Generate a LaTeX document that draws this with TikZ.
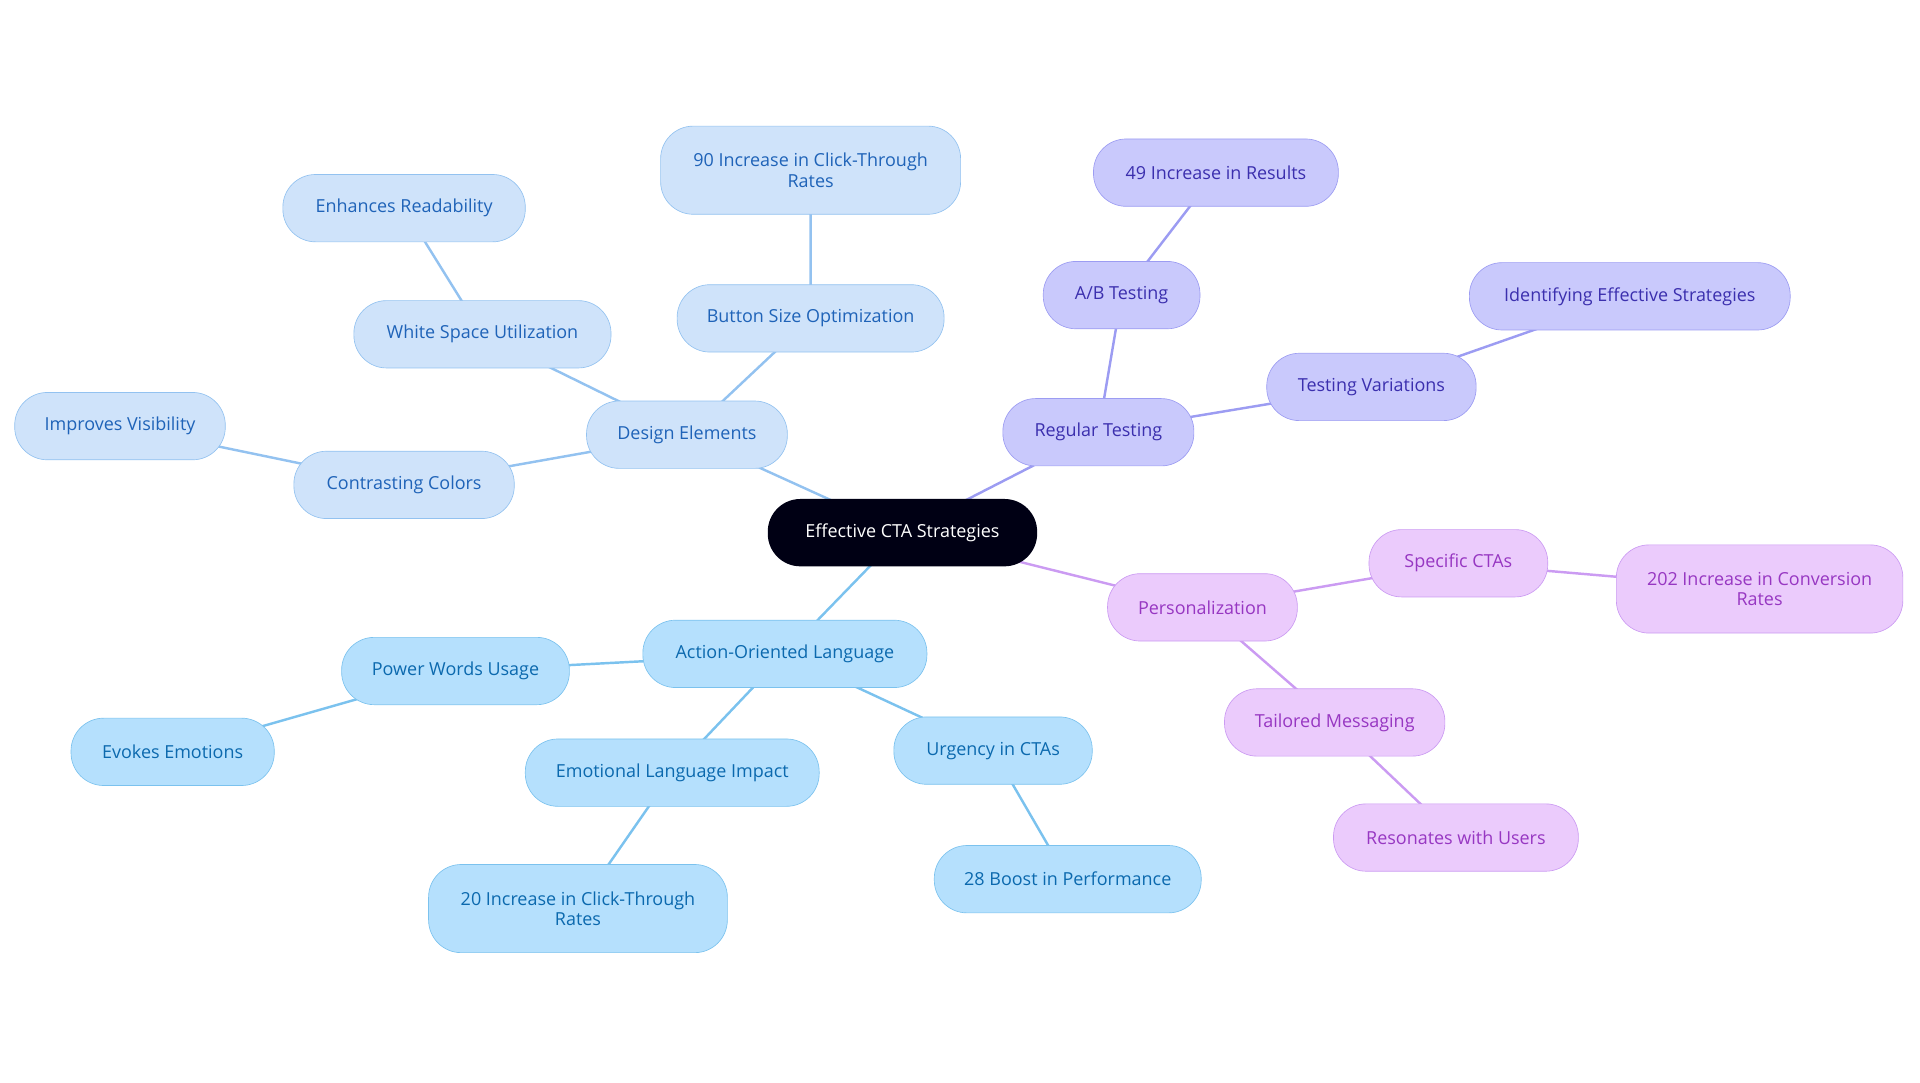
\documentclass[tikz,border=0pt]{standalone}
\usepackage{fontspec}
\setmainfont{Open Sans}
\usetikzlibrary{backgrounds}
\definecolor{deF}{HTML}{CFE3FA}\definecolor{deD}{HTML}{93C2F0}\definecolor{deT}{HTML}{1F63B8}
\definecolor{aoF}{HTML}{B5E0FD}\definecolor{aoD}{HTML}{7BC2EE}\definecolor{aoT}{HTML}{0B69AE}
\definecolor{rtF}{HTML}{C9C9FC}\definecolor{rtD}{HTML}{9C9CF2}\definecolor{rtT}{HTML}{3B2FAE}
\definecolor{peF}{HTML}{EBCBFC}\definecolor{peD}{HTML}{CB9BF2}\definecolor{peT}{HTML}{9737C2}
\tikzset{
 box/.style={rounded corners=20pt,inner sep=0pt,minimum height=41.25pt,font=\fontsize{11}{12.5}\selectfont,align=center},
 de/.style={box,fill=deF,draw=deD,text=deT},
 ao/.style={box,fill=aoF,draw=aoD,text=aoT},
 rt/.style={box,fill=rtF,draw=rtD,text=rtT},
 pe/.style={box,fill=peF,draw=peD,text=peT},
 w/.style={minimum width=#1*0.75pt},
 tall/.style={minimum height=54pt},
 eDE/.style={draw=deD,line width=1.5pt},
 eAO/.style={draw=aoD,line width=1.5pt},
 eRT/.style={draw=rtD,line width=1.5pt},
 ePE/.style={draw=peD,line width=1.5pt},
}
\begin{document}
\begin{tikzpicture}[x=0.75pt,y=-0.75pt]
\useasboundingbox (0,0) rectangle (1568,884.4);
\node[box,fill=black!92!blue,text=white,w=220] (root) at (737,435) {Effective CTA Strategies};
\node[de,w=164] (de) at (561,355) {Design Elements};
\node[de,w=210] (ws) at (394,273) {White Space Utilization};
\node[de,w=198] (er) at (330,170) {Enhances Readability};
\node[de,w=218] (bs) at (662,260) {Button Size Optimization};
\node[de,w=245,tall] (n90) at (662,139) {90 Increase in Click-Through\\Rates};
\node[de,w=180] (cc) at (330,396) {Contrasting Colors};
\node[de,w=172] (iv) at (98,348) {Improves Visibility};
\node[ao,w=232] (ao) at (641,534) {Action-Oriented Language};
\node[ao,w=186] (pw) at (372,548) {Power Words Usage};
\node[ao,w=166] (ee) at (141,614) {Evokes Emotions};
\node[ao,w=240] (el) at (549,631) {Emotional Language Impact};
\node[ao,w=244,tall] (n20) at (472,742) {20 Increase in Click-Through\\Rates};
\node[ao,w=162] (ug) at (811,613) {Urgency in CTAs};
\node[ao,w=218] (n28) at (872,718) {28 Boost in Performance};
\node[rt,w=156] (rt) at (897,353) {Regular Testing};
\node[rt,w=128] (ab) at (916,241) {A/B Testing};
\node[rt,w=200] (n49) at (993,141) {49 Increase in Results};
\node[rt,w=171] (tv) at (1120,316) {Testing Variations};
\node[rt,w=262] (ie) at (1331,242) {Identifying Effective Strategies};
\node[pe,w=155] (pe) at (982,496) {Personalization};
\node[pe,w=146] (sc) at (1191,460) {Specific CTAs};
\node[pe,w=234,tall] (n202) at (1437,481) {202 Increase in Conversion\\Rates};
\node[pe,w=180] (tm) at (1090,590) {Tailored Messaging};
\node[pe,w=200] (ru) at (1189,684) {Resonates with Users};
\begin{scope}[on background layer]
\draw[eDE] (root.center)--(de.center) (de.center)--(ws.center) (ws.center)--(er.center) (de.center)--(bs.center) (bs.center)--(n90.center) (de.center)--(cc.center) (cc.center)--(iv.center);
\draw[eAO] (root.center)--(ao.center) (ao.center)--(pw.center) (pw.center)--(ee.center) (ao.center)--(el.center) (el.center)--(n20.center) (ao.center)--(ug.center) (ug.center)--(n28.center);
\draw[eRT] (root.center)--(rt.center) (rt.center)--(ab.center) (ab.center)--(n49.center) (rt.center)--(tv.center) (tv.center)--(ie.center);
\draw[ePE] (root.center)--(pe.center) (pe.center)--(sc.center) (sc.center)--(n202.center) (pe.center)--(tm.center) (tm.center)--(ru.center);
\end{scope}
\end{tikzpicture}
\end{document}
